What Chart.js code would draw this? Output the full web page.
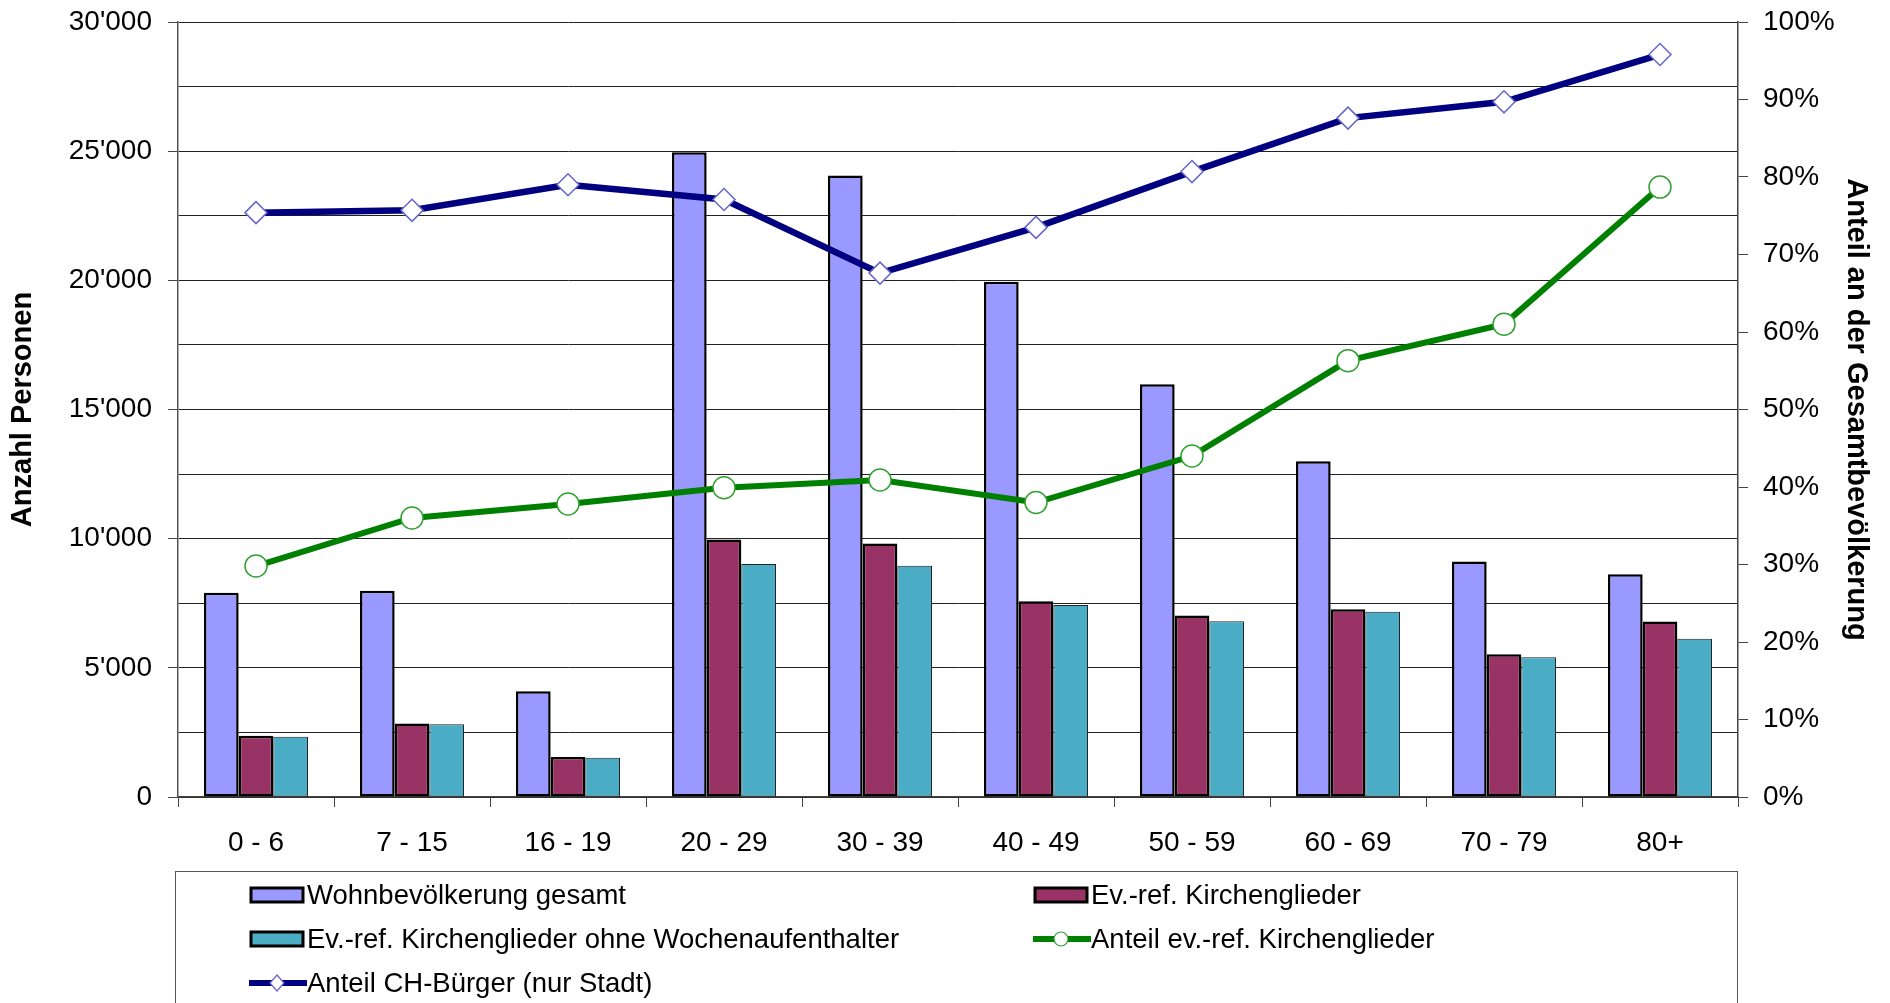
<!DOCTYPE html>
<html><head><meta charset="utf-8">
<script src="https://cdn.jsdelivr.net/npm/chart.js@4.4.0/dist/chart.umd.min.js"></script>
<style>
html,body{margin:0;padding:0;background:#fff;}
#wrap{position:relative;width:1890px;height:1003px;overflow:hidden;}
#c{position:absolute;left:0;top:0;}
#legend{position:absolute;left:175px;top:871px;width:1563px;height:220px;border:1.5px solid #555;box-sizing:border-box;font-family:"Liberation Sans",Arial,sans-serif;font-size:27.5px;color:#000;}
.item{position:absolute;height:40px;}
.item svg{position:absolute;top:10px;}
.item span{position:absolute;top:0;line-height:40px;white-space:nowrap;}
</style></head><body>
<div id="wrap"><canvas id="c" width="1890" height="1003"></canvas><div id="legend"></div></div>
<script>
const categories = ['0 - 6', '7 - 15', '16 - 19', '20 - 29', '30 - 39', '40 - 49', '50 - 59', '60 - 69', '70 - 79', '80+'];
const wohnbevoelkerungGesamt = [7910, 7980, 4090, 24960, 24060, 19950, 15980, 13000, 9120, 8620];
const kirchenglieder = [2370, 2850, 1550, 9970, 9810, 7580, 7030, 7270, 5530, 6790];
const kirchengliederOhneWochenaufenthalter = [2330, 2820, 1520, 9020, 8950, 7430, 6800, 7170, 5410, 6130];
const anteilKirchenglieder = [29.8, 36.0, 37.8, 39.9, 40.9, 38.0, 44.0, 56.3, 61.0, 78.7];
const anteilCHBuerger = [75.4, 75.7, 79.0, 77.1, 67.6, 73.5, 80.7, 87.6, 89.7, 95.8];
const seriesNames = ['Wohnbevölkerung gesamt', 'Ev.-ref. Kirchenglieder', 'Ev.-ref. Kirchenglieder ohne Wochenaufenthalter', 'Anteil ev.-ref. Kirchenglieder', 'Anteil CH-Bürger (nur Stadt)'];
const leftAxisTitle = 'Anzahl Personen';
const rightAxisTitle = 'Anteil an der Gesamtbevölkerung';

function fmtThousands(v){
  return String(Math.round(v)).replace(/\B(?=(\d{3})+(?!\d))/g, "'");
}
const FONT = '"Liberation Sans", Arial, sans-serif';

const chart = new Chart(document.getElementById('c'), {
  type: 'bar',
  data: {
    labels: categories,
    datasets: [
      {type:'line', label: seriesNames[4], data: anteilCHBuerger, yAxisID:'y1', order:0,
       borderColor:'#000080', borderWidth:6.5, tension:0, pointStyle:'rectRot', pointRadius:11,
       pointBackgroundColor:'#fff', pointBorderColor:'#6666cc', pointBorderWidth:1.5},
      {type:'line', label: seriesNames[3], data: anteilKirchenglieder, yAxisID:'y1', order:0,
       borderColor:'#008000', borderWidth:6, tension:0, pointStyle:'circle', pointRadius:11,
       pointBackgroundColor:'#fff', pointBorderColor:'#33a033', pointBorderWidth:1.5},
      {label: seriesNames[0], data: wohnbevoelkerungGesamt, yAxisID:'y', order:1,
       backgroundColor:'#9999ff', borderColor:'#000', borderWidth:2.5, borderSkipped:false,
       categoryPercentage:0.667, barPercentage:1},
      {label: seriesNames[1], data: kirchenglieder, yAxisID:'y', order:1,
       backgroundColor:'#993366', borderColor:'#000', borderWidth:2.5, borderSkipped:false,
       categoryPercentage:0.667, barPercentage:1},
      {label: seriesNames[2], data: kirchengliederOhneWochenaufenthalter, yAxisID:'y', order:1,
       backgroundColor:'#4bacc6', borderColor:'#222', borderWidth:1, borderSkipped:false,
       categoryPercentage:0.667, barPercentage:1}
    ]
  },
  options: {
    responsive:false, animation:false,
    layout:{padding:{top:22, bottom:146, left:0, right:0}},
    plugins:{legend:{display:false}, tooltip:{enabled:false}},
    scales:{
      x:{
        grid:{drawOnChartArea:false, tickLength:10, color:'#444', offset:true},
        border:{color:'#444', width:1.5},
        ticks:{color:'#000', font:{family:FONT, size:28}, padding:19, maxRotation:0},
        afterFit(s){ s.height = 60; s.paddingLeft = 0; s.paddingRight = 0; }
      },
      y:{
        position:'left', min:0, max:30000,
        ticks:{stepSize:2500, color:'#000', font:{family:FONT, size:28}, padding:16,
          callback:(v)=> (v % 5000 === 0 ? fmtThousands(v) : '')},
        grid:{color:'#222', lineWidth:1, tickLength:10,
          tickColor:(ctx)=> (ctx.tick && ctx.tick.value % 5000 === 0 ? '#444' : 'rgba(0,0,0,0)')},
        border:{color:'#555', width:1.5},
        title:{display:true, text:leftAxisTitle, color:'#000', font:{family:FONT, size:29, weight:'bold'}, padding:{top:6, bottom:0}},
        afterFit(s){ s.width = 178; s.paddingTop = 0; s.paddingBottom = 0; }
      },
      y1:{
        position:'right', min:0, max:100,
        ticks:{stepSize:10, color:'#000', font:{family:FONT, size:28}, padding:15,
          callback:(v)=> v + '%'},
        grid:{drawOnChartArea:false, tickLength:10, color:'#444'},
        border:{color:'#444', width:1.5},
        title:{display:true, text:rightAxisTitle, color:'#000', font:{family:FONT, size:29, weight:'bold'}, padding:{top:17, bottom:0}},
        afterFit(s){ s.width = 152; s.paddingTop = 0; s.paddingBottom = 0; }
      }
    }
  }
});

// HTML legend built from the chart datasets
const legendEl = document.getElementById('legend');
const layout = [
  {idx:2, x:73,  y:3},
  {idx:3, x:857, y:3},
  {idx:4, x:73,  y:47},
  {idx:1, x:857, y:47},
  {idx:0, x:73,  y:91}
];
layout.forEach(p => {
  const ds = chart.data.datasets[p.idx];
  const item = document.createElement('div');
  item.className = 'item';
  item.style.left = p.x + 'px';
  item.style.top = p.y + 'px';
  let svg;
  if (ds.type === 'line') {
    const marker = ds.pointStyle === 'rectRot'
      ? `<polygon points="28,2 35,10 28,18 21,10" fill="#fff" stroke="${ds.pointBorderColor}" stroke-width="1.2"/>`
      : `<circle cx="28" cy="10" r="7" fill="#fff" stroke="${ds.pointBorderColor}" stroke-width="1.2"/>`;
    svg = `<svg width="58" height="20"><line x1="1" y1="10" x2="57" y2="10" stroke="${ds.borderColor}" stroke-width="6" stroke-linecap="round"/>${marker}</svg>`;
  } else {
    svg = `<svg width="58" height="20"><rect x="2" y="3" width="52" height="14" fill="${ds.backgroundColor}" stroke="#000" stroke-width="3"/></svg>`;
  }
  item.innerHTML = svg + `<span style="left:58px">${ds.label}</span>`;
  legendEl.appendChild(item);
});
</script>
</body></html>
